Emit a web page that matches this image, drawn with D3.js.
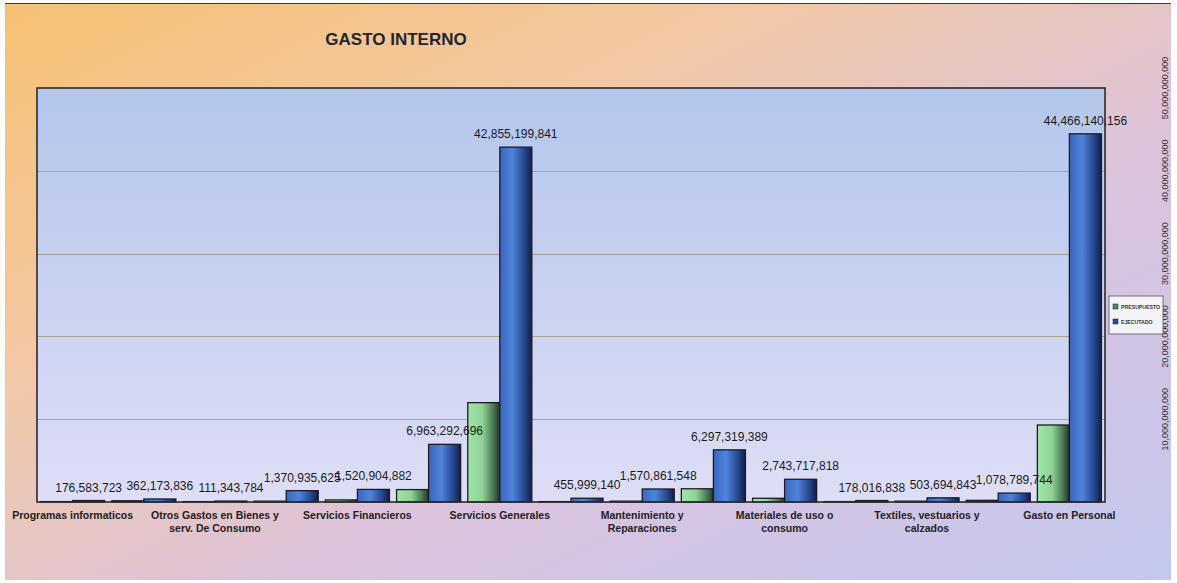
<!DOCTYPE html>
<html>
<head>
<meta charset="utf-8">
<script src="https://cdn.jsdelivr.net/npm/d3@7"></script>
<style>
  body { margin: 0; background: #ffffff; }
  svg { display: block; font-family: "Liberation Sans", Arial, sans-serif; }
</style>
</head>
<body>
<div id="chart"></div>
<script>
// Tick labels: the original chart only printed every other category
var categoryLabels = [
    ["Programas informaticos"], [],
    ["Otros Gastos en Bienes y", "serv. De Consumo"], [],
    ["Servicios Financieros"], [],
    ["Servicios Generales"], [],
    ["Mantenimiento y", "Reparaciones"], [],
    ["Materiales de uso o", "consumo"], [],
    ["Textiles, vestuarios y", "calzados"], [],
    ["Gasto en Personal"]
];

var seriesNames = ["PRESUPUESTO", "EJECUTADO"];

// Green bars (no labels)
var presupuesto = [
    50000000, 150000000, 50000000, 100000000, 250000000,
    1500000000, 12000000000, 50000000, 100000000, 1600000000,
    450000000, 50000000, 100000000, 200000000, 9300000000
];

// Blue bars (labelled values)
var ejecutado = [
    176583723, 362173836, 111343784, 1370935625, 1520904882,
    6963292696, 42855199841, 455999140, 1570861548, 6297319389,
    2743717818, 178016838, 503694843, 1078789744, 44466140156
];

var yTicks = [10000000000, 20000000000, 30000000000, 40000000000, 50000000000];

(function() {

    var width = 1177, height = 583;

    // Plot area box
    var plot = { left: 37, right: 1105, top: 88, bottom: 502 };

    var svg = d3.select("#chart")
        .append("svg")
        .attr("width", width)
        .attr("height", height);

    var defs = svg.append("defs");

    // Page background: orange top-left to lavender bottom-right
    var bg = defs.append("linearGradient")
        .attr("id", "bg")
        .attr("x1", "0").attr("y1", "0")
        .attr("x2", "1").attr("y2", "1");
    bg.append("stop").attr("offset", "0%").attr("stop-color", "#f6c173");
    bg.append("stop").attr("offset", "32%").attr("stop-color", "#f3c8a4");
    bg.append("stop").attr("offset", "62%").attr("stop-color", "#dcc3dc");
    bg.append("stop").attr("offset", "100%").attr("stop-color", "#c3c8f0");

    // Plot background: light blue to pale lavender
    var pbg = defs.append("linearGradient")
        .attr("id", "pbg")
        .attr("x1", "0").attr("y1", "0")
        .attr("x2", "0").attr("y2", "1");
    pbg.append("stop").attr("offset", "0%").attr("stop-color", "#b4c6ec");
    pbg.append("stop").attr("offset", "100%").attr("stop-color", "#dedef6");

    // Bar shading, lighter front and dark side
    var gradStops = {
        green: [["0%", "#9fe3a6"], ["45%", "#8fd496"], ["78%", "#4e7d58"], ["100%", "#1f3526"]],
        blue: [["0%", "#3a66bc"], ["40%", "#4d84da"], ["75%", "#284a94"], ["100%", "#131d45"]]
    };
    Object.keys(gradStops).forEach(function(key) {
        var g = defs.append("linearGradient")
            .attr("id", "bar-" + key)
            .attr("x1", "0").attr("y1", "0")
            .attr("x2", "1").attr("y2", "0");
        gradStops[key].forEach(function(s) {
            g.append("stop").attr("offset", s[0]).attr("stop-color", s[1]);
        });
    });

    // Background and frame line
    svg.append("rect")
        .attr("x", 5).attr("y", 3)
        .attr("width", 1166).attr("height", 577)
        .attr("fill", "url(#bg)");
    svg.append("line")
        .attr("x1", 5).attr("x2", 1171)
        .attr("y1", 3.5).attr("y2", 3.5)
        .attr("stroke", "#3a3a3a")
        .attr("stroke-width", 1);

    // Title
    svg.append("text")
        .attr("x", 396)
        .attr("y", 45)
        .attr("text-anchor", "middle")
        .attr("font-size", "17px")
        .attr("font-weight", "bold")
        .attr("fill", "#1d2733")
        .text("GASTO INTERNO");

    // Scales
    var x0 = d3.scaleBand()
        .domain(d3.range(ejecutado.length))
        .range([plot.left, plot.right])
        .paddingInner(0.1)
        .paddingOuter(0.05);

    var x1 = d3.scaleBand()
        .domain(seriesNames)
        .range([0, x0.bandwidth()]);

    var y = d3.scaleLinear()
        .domain([0, 50000000000])
        .range([plot.bottom, plot.top]);

    // Plot area
    svg.append("rect")
        .attr("x", plot.left)
        .attr("y", plot.top)
        .attr("width", plot.right - plot.left)
        .attr("height", plot.bottom - plot.top)
        .attr("fill", "url(#pbg)");

    // Gridlines
    svg.append("g")
        .selectAll("line")
        .data(yTicks.slice(0, -1))
        .enter()
        .append("line")
        .attr("x1", plot.left)
        .attr("x2", plot.right)
        .attr("y1", function(d) { return Math.round(y(d)) + 0.5; })
        .attr("y2", function(d) { return Math.round(y(d)) + 0.5; })
        .attr("stroke", "#a9a393")
        .attr("stroke-width", 1.2);

    // Bars, one group per category
    var rows = ejecutado.map(function(v, i) {
        return { index: i, values: [
            { key: "PRESUPUESTO", value: presupuesto[i], fill: "url(#bar-green)" },
            { key: "EJECUTADO", value: v, fill: "url(#bar-blue)" }
        ] };
    });

    var groups = svg.append("g")
        .selectAll("g")
        .data(rows)
        .enter()
        .append("g")
        .attr("transform", function(d) { return "translate(" + x0(d.index) + ",0)"; });

    groups.selectAll("rect")
        .data(function(d) { return d.values; })
        .enter()
        .append("rect")
        .attr("x", function(d) { return x1(d.key); })
        .attr("width", x1.bandwidth())
        .attr("y", function(d) { return y(d.value); })
        .attr("height", function(d) { return y(0) - y(d.value); })
        .attr("fill", function(d) { return d.fill; })
        .attr("stroke", "#1c1c26")
        .attr("stroke-width", 1.3);

    // Value labels on the blue series
    svg.append("g")
        .selectAll("text")
        .data(ejecutado)
        .enter()
        .append("text")
        .attr("x", function(d, i) { return x0(i) + x1("EJECUTADO") + x1.bandwidth() / 2; })
        .attr("y", function(d) { return y(d) - 9; })
        .attr("text-anchor", "middle")
        .attr("font-size", "12px")
        .attr("fill", "#1a1a1a")
        .text(function(d) { return d3.format(",")(d); });

    // Plot border
    svg.append("rect")
        .attr("x", plot.left)
        .attr("y", plot.top)
        .attr("width", plot.right - plot.left)
        .attr("height", plot.bottom - plot.top)
        .attr("fill", "none")
        .attr("stroke", "#2b2b2b")
        .attr("stroke-width", 1.6);

    // Category labels under the axis
    var catG = svg.append("g")
        .selectAll("text")
        .data(categoryLabels)
        .enter()
        .append("text")
        .attr("x", function(d, i) { return x0(i) + x0.bandwidth() / 2; })
        .attr("y", 519)
        .attr("text-anchor", "middle")
        .attr("font-size", "10.5px")
        .attr("font-weight", "bold")
        .attr("fill", "#222222");

    catG.selectAll("tspan")
        .data(function(d) { return d; })
        .enter()
        .append("tspan")
        .attr("x", function() { return d3.select(this.parentNode).attr("x"); })
        .attr("dy", function(d, i) { return i === 0 ? 0 : 13; })
        .text(function(d) { return d; });

    // Right value axis, rotated labels
    svg.append("g")
        .selectAll("text")
        .data(yTicks)
        .enter()
        .append("text")
        .attr("transform", function(d) { return "translate(1168," + y(d) + ") rotate(-90)"; })
        .attr("text-anchor", "middle")
        .attr("font-size", "9px")
        .attr("fill", "#333333")
        .text(function(d) { return d3.format(",")(d); });

    // Legend
    var legend = svg.append("g")
        .attr("transform", "translate(1109,296)");

    legend.append("rect")
        .attr("width", 54)
        .attr("height", 38)
        .attr("fill", "#f4f4f8")
        .attr("stroke", "#555555")
        .attr("stroke-width", 0.8);

    var legendColors = ["#4f8a5a", "#2a4d98"];
    legend.selectAll("g")
        .data(seriesNames)
        .enter()
        .append("g")
        .attr("transform", function(d, i) { return "translate(4," + (12 + i * 15) + ")"; })
        .each(function(d, i) {
            var g = d3.select(this);
            g.append("rect")
                .attr("y", -4)
                .attr("width", 5)
                .attr("height", 5)
                .attr("fill", legendColors[i])
                .attr("stroke", "#222222")
                .attr("stroke-width", 0.5);
            g.append("text")
                .attr("x", 8)
                .attr("y", 1)
                .attr("font-size", "5.2px")
                .attr("font-weight", "bold")
                .attr("fill", "#333333")
                .text(d);
        });
}());
</script>
</body>
</html>
